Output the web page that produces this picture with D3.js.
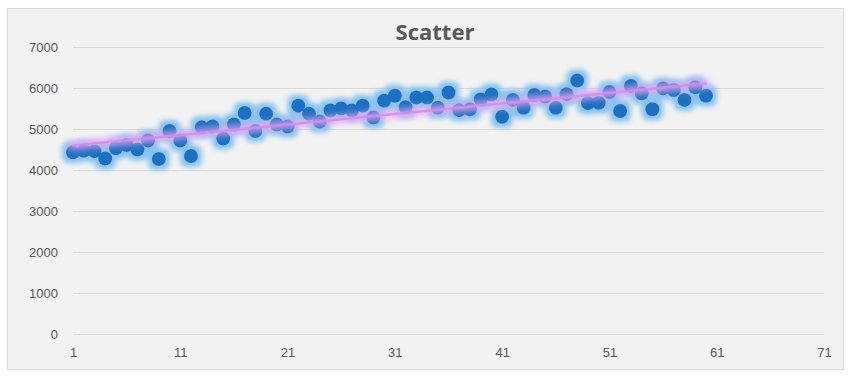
<!DOCTYPE html>
<html lang="en">
<head>
    <meta charset="UTF-8">
    <title>Scatter</title>
    <script src="https://d3js.org/d3.v7.min.js"></script>
    <style>
        body {
            margin: 0;
            background: #ffffff;
        }
        .tick text {
            font: 13px "Liberation Sans Narrow", "Liberation Sans", sans-serif;
            fill: #595959;
        }
        .title {
            font: bold 22px "Liberation Sans Narrow", "Open Sans", sans-serif;
            fill: #595959;
        }
    </style>
</head>
<body>
    <svg width="856" height="379"></svg>

    <script>
        // x categories 1..60, y values
        const xValues = d3.range(1, 61);
        const yValues = [
            4430, 4470, 4460, 4280, 4530, 4610, 4500, 4720, 4270, 4950,
            4720, 4340, 5040, 5060, 4770, 5110, 5390, 4950, 5370, 5110,
            5060, 5570, 5370, 5180, 5450, 5500, 5450, 5570, 5280, 5690,
            5810, 5530, 5770, 5770, 5520, 5890, 5460, 5480, 5720, 5840,
            5300, 5710, 5520, 5830, 5790, 5520, 5850, 6180, 5630, 5640,
            5900, 5440, 6050, 5870, 5480, 5990, 5950, 5710, 6020, 5810
        ];
        const xTicks = [1, 11, 21, 31, 41, 51, 61, 71];
        const yTicks = [0, 1000, 2000, 3000, 4000, 5000, 6000, 7000];

        const data = xValues.map((x, i) => ({x: x, y: yValues[i]}));

        const svg = d3.select("svg");

        // chart frame
        svg.append("rect")
            .attr("x", 7.5).attr("y", 8.5)
            .attr("width", 836).attr("height", 361)
            .attr("fill", "#f2f2f2")
            .attr("stroke", "#d9d9d9");

        svg.append("text")
            .attr("class", "title")
            .attr("x", 435)
            .attr("y", 40)
            .attr("text-anchor", "middle")
            .text("Scatter");

        const x = d3.scaleLinear().domain([1, 71]).range([73, 824]);
        const y = d3.scaleLinear().domain([0, 7000]).range([334, 47]);

        // glow filters
        const defs = svg.append("defs");
        const glow = defs.append("filter").attr("id", "glow")
            .attr("x", "-100%").attr("y", "-100%").attr("width", "300%").attr("height", "300%");
        glow.append("feMorphology").attr("in", "SourceAlpha").attr("operator", "dilate").attr("radius", 4).attr("result", "d");
        glow.append("feGaussianBlur").attr("in", "d").attr("stdDeviation", 2.5).attr("result", "b");
        glow.append("feFlood").attr("flood-color", "#86c2f0").attr("flood-opacity", 1);
        glow.append("feComposite").attr("in2", "b").attr("operator", "in").attr("result", "g");
        const m1 = glow.append("feMerge");
        m1.append("feMergeNode").attr("in", "g");
        m1.append("feMergeNode").attr("in", "SourceGraphic");

        const pglow = defs.append("filter").attr("id", "pglow")
            .attr("x", "-10%").attr("y", "-200%").attr("width", "120%").attr("height", "500%");
        pglow.append("feMorphology").attr("in", "SourceAlpha").attr("operator", "dilate").attr("radius", 2.5).attr("result", "d");
        pglow.append("feGaussianBlur").attr("in", "d").attr("stdDeviation", 3).attr("result", "b");
        pglow.append("feFlood").attr("flood-color", "#f3a6f7").attr("flood-opacity", 0.85);
        pglow.append("feComposite").attr("in2", "b").attr("operator", "in").attr("result", "g");
        const m2 = pglow.append("feMerge");
        m2.append("feMergeNode").attr("in", "g");
        m2.append("feMergeNode").attr("in", "SourceGraphic");

        // gridlines + y axis
        svg.append("g")
            .attr("transform", "translate(73,0)")
            .call(d3.axisLeft(y).tickValues(yTicks).tickSize(-751).tickPadding(15).tickFormat(d3.format("d")))
            .call(g => g.select(".domain").remove())
            .call(g => g.selectAll(".tick line").attr("stroke", "#d9d9d9"));

        // x axis labels
        svg.append("g")
            .attr("transform", "translate(0,334)")
            .call(d3.axisBottom(x).tickValues(xTicks).tickSize(0).tickPadding(14))
            .call(g => g.select(".domain").remove());

        // markers
        svg.append("g")
            .attr("filter", "url(#glow)")
            .selectAll("circle")
            .data(data)
            .enter()
            .append("circle")
            .attr("cx", d => x(d.x))
            .attr("cy", d => y(d.y))
            .attr("r", 7)
            .attr("fill", "#1a6fc1");

        // linear trendline
        const mx = d3.mean(data, d => d.x), my = d3.mean(data, d => d.y);
        const slope = d3.sum(data, d => (d.x - mx) * (d.y - my)) / d3.sum(data, d => (d.x - mx) ** 2);
        const icpt = my - slope * mx;
        const x0 = d3.min(xValues), x1 = d3.max(xValues);

        svg.append("line")
            .attr("filter", "url(#pglow)")
            .attr("x1", x(x0)).attr("y1", y(icpt + slope * x0))
            .attr("x2", x(x1)).attr("y2", y(icpt + slope * x1))
            .attr("stroke", "#d98aea")
            .attr("stroke-opacity", 0.85)
            .attr("stroke-width", 2.5)
            .attr("stroke-linecap", "round");
    </script>
</body>
</html>
